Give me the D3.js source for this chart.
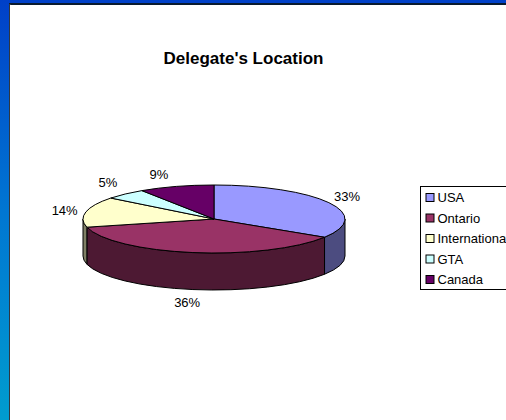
<!DOCTYPE html>
<html><head><meta charset="utf-8">
<script src="https://cdn.jsdelivr.net/npm/d3@7"></script>
<style>html,body{margin:0;padding:0;background:#fff}svg{display:block}text{font-family:"Liberation Sans",Arial,sans-serif;fill:#000}</style>
</head><body><svg id="c" width="506" height="420"></svg>
<script>
const categories=["USA","Ontario","International","GTA","Canada"];
const values=[33,36,14,5,9];
const labels=["33%","36%","14%","5%","9%"];
const topColors=["#9999FF","#993366","#FFFFCC","#CCFFFF","#660066"];
const sideColors=["#4C4C80","#4D1933","#808066","#668080","#330033"];
const titleText="Delegate's Location";

const svg=d3.select("#c");
const defs=svg.append("defs");
const grad=defs.append("linearGradient").attr("id","bg").attr("x1",0).attr("y1",0).attr("x2",0).attr("y2",1);
grad.append("stop").attr("offset",0).attr("stop-color","#0040C8");
grad.append("stop").attr("offset",0.5).attr("stop-color","#0076D2");
grad.append("stop").attr("offset",1).attr("stop-color","#009CCF");
svg.append("rect").attr("width",506).attr("height",420).attr("fill","url(#bg)");
svg.append("rect").attr("x",9).attr("y",3).attr("width",497).attr("height",417).attr("fill","#0A1A2E");
svg.append("rect").attr("x",9.5).attr("y",4).attr("width",1).attr("height",416).attr("fill","#555");
svg.append("rect").attr("x",10).attr("y",5).attr("width",496).attr("height",415).attr("fill","#fff");

svg.append("text").attr("x",243.5).attr("y",64).attr("text-anchor","middle")
  .attr("font-size",17).attr("font-weight","bold").text(titleText);

const cx=214,cy=219,rx=131,ry=34,depth=37;
const arcs=d3.pie().sort(null).value(d=>d)(values);
const px=d3.scaleLinear().domain([-1,1]).range([cx-rx,cx+rx]);
const py=d3.scaleLinear().domain([-1,1]).range([cy-ry,cy+ry]);
const pt=(a,dz=0)=>[px(Math.sin(a)),py(-Math.cos(a))+dz];
const ell=(a0,a1,dz,sweep)=>{
  const [x,y]=pt(a1,dz);
  return `A${rx},${ry} 0 ${Math.abs(a1-a0)>Math.PI?1:0} ${sweep} ${x},${y}`;
};
const pie=svg.append("g").attr("stroke","#000").attr("stroke-width",1).attr("stroke-linejoin","round");
// side walls: only the part of each slice on the front half of the ellipse
arcs.forEach((d,i)=>{
  const a0=Math.max(d.startAngle,Math.PI/2),a1=Math.min(d.endAngle,3*Math.PI/2);
  if(a1<=a0)return;
  const [x0,y0]=pt(a0),[x1,y1]=pt(a1,depth);
  pie.append("path").attr("fill",sideColors[i])
    .attr("d",`M${x0},${y0}${ell(a0,a1,0,1)}L${x1},${y1}${ell(a1,a0,depth,0)}Z`);
});
// top faces
arcs.forEach((d,i)=>{
  const [x0,y0]=pt(d.startAngle);
  pie.append("path").attr("fill",topColors[i])
    .attr("d",`M${cx},${cy}L${x0},${y0}${ell(d.startAngle,d.endAngle,0,1)}Z`);
});
// percentage labels: offset per slice
const labelX=[1.015,-0.205,-1.14,-0.81,-0.42],labelY=[-0.68,2.44,-0.27,-1.09,-1.32];
arcs.forEach((d,i)=>{
  svg.append("text").attr("x",px(labelX[i])).attr("y",py(labelY[i])+5)
    .attr("text-anchor","middle").attr("font-size",13).text(labels[i]);
});
// legend
const lg=svg.append("g");
lg.append("rect").attr("x",420.5).attr("y",186.5).attr("width",100).attr("height",103).attr("fill","#fff").attr("stroke","#000");
const ly=d3.scalePoint().domain(categories).range([197.5,279.5]);
categories.forEach((c,i)=>{
  lg.append("rect").attr("x",426).attr("y",ly(c)-4).attr("width",8).attr("height",8)
    .attr("fill",topColors[i]).attr("stroke","#000");
  lg.append("text").attr("x",437.5).attr("y",ly(c)+4.5).attr("font-size",13).text(c);
});
</script></body></html>
